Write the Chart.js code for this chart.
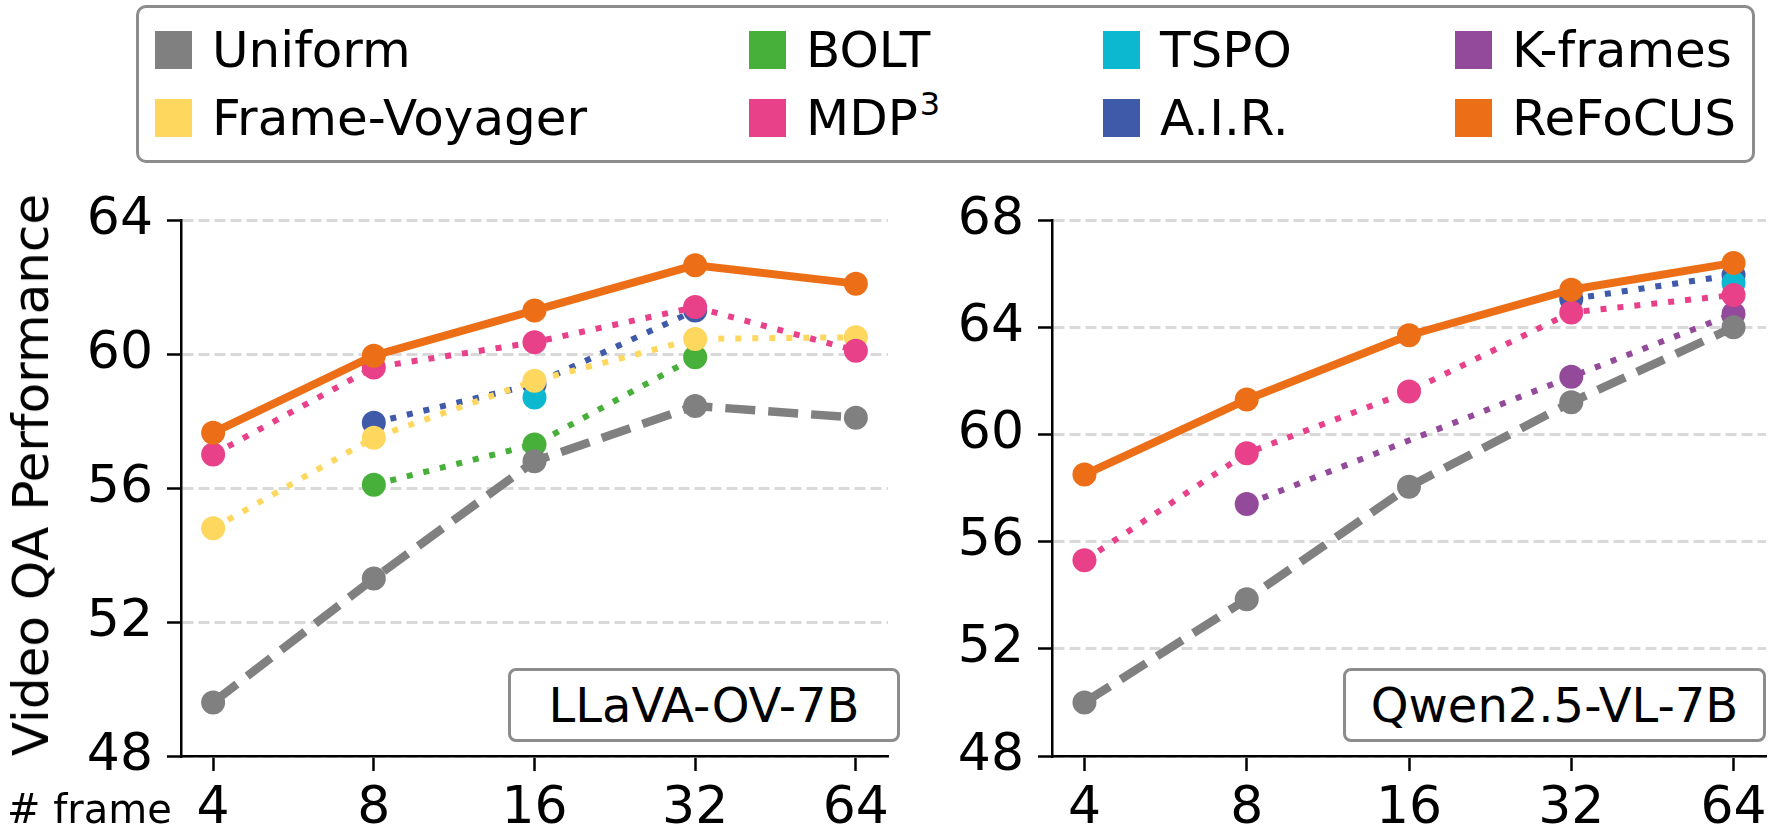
<!DOCTYPE html>
<html>
<head>
<meta charset="utf-8">
<script src="https://cdn.jsdelivr.net/npm/chart.js@4.4.0/dist/chart.umd.min.js"></script>
<style>
  html, body { margin: 0; padding: 0; background: #fff; }
  #wrap { position: relative; width: 1779px; height: 838px; overflow: hidden; font-family: 'DejaVu Sans', sans-serif; color: #000; }
  canvas { position: absolute; top: 0; }
  #legend { position: absolute; left: 136px; top: 5px; width: 1613px; height: 152px; border: 3px solid #8c8c8c; border-radius: 10px; background: #fff; z-index: 5; }
  .li { position: absolute; height: 40px; }
  .sq { position: absolute; left: 0; top: 1px; width: 37px; height: 38px; }
  .lt { position: absolute; left: 57px; top: -9px; font-size: 50px; line-height: 58px; white-space: nowrap; }
  .sup { position: relative; top: -20px; font-size: 32px; margin-left: 2px; }
  .box { position: absolute; top: 668px; height: 68px; border: 3px solid #8c8c8c; border-radius: 8px; background: #fff; font-size: 48px; line-height: 68px; text-align: center; z-index: 5; }
  #ylab { position: absolute; left: 31px; top: 475px; transform: translate(-50%, -50%) rotate(-90deg); font-size: 50px; white-space: nowrap; }
  #xlab { position: absolute; left: 7px; top: 784px; font-size: 40px; line-height: 50px; white-space: nowrap; }
</style>
</head>
<body>
<div id="wrap">
  <canvas id="cL" width="900" height="838" style="left:0px"></canvas>
  <canvas id="cR" width="879" height="838" style="left:900px"></canvas>
  <div id="legend"></div>
  <div id="ylab">Video QA Performance</div>
  <div id="xlab"># frame</div>
  <div class="box" style="left:508px; width:386px;">LLaVA-OV-7B</div>
  <div class="box" style="left:1343px; width:417px;">Qwen2.5-VL-7B</div>
</div>
<script>
// ---- data ----
const frames = ['4', '8', '16', '32', '64'];
const methods = ['Uniform', 'Frame-Voyager', 'BOLT', 'MDP3', 'TSPO', 'A.I.R.', 'K-frames', 'ReFoCUS'];
const legendLabels = ['Uniform', 'Frame-Voyager', 'BOLT', 'MDP<span class="sup">3</span>', 'TSPO', 'A.I.R.', 'K-frames', 'ReFoCUS'];

// LLaVA-OV-7B
const uniformL  = [49.6, 53.3, 56.8, 58.45, 58.1];
const voyagerL  = [54.8, 57.5, 59.2, 60.45, 60.5];
const boltL     = [null, 56.1, 57.3, 59.9, null];
const mdpL      = [57.0, 59.6, 60.35, 61.4, 60.1];
const tspoL     = [null, null, 58.7, null, null];
const airL      = [null, 57.95, 59.1, 61.3, null];
const kframesL  = [null, null, null, null, null];
const refocusL  = [57.65, 59.95, 61.3, 62.65, 62.1];

// Qwen2.5-VL-7B
const uniformR  = [50.0, 53.85, 58.05, 61.2, 64.0];
const voyagerR  = [null, null, null, null, null];
const boltR     = [null, null, null, null, null];
const mdpR      = [55.3, 59.3, 61.6, 64.55, 65.2];
const tspoR     = [null, null, null, null, 65.65];
const airR      = [null, null, null, 65.05, 65.95];
const kframesR  = [null, 57.4, null, 62.15, 64.5];
const refocusR  = [58.5, 61.3, 63.7, 65.4, 66.4];

const yTicksL = [48, 52, 56, 60, 64];
const yTicksR = [48, 52, 56, 60, 64, 68];

// ---- styles ----
const colors = ['#808080', '#fed75f', '#47b03a', '#e8418a', '#0cb8d0', '#3f5aa8', '#944a9b', '#ec6f17'];
const styles = ['dash', 'dot', 'dot', 'dot', 'dot', 'dot', 'dot', 'solid'];
const zorder = [1, 3, 4, 2, 6, 7, 5, 0];

const FONT = "'DejaVu Sans', sans-serif";

function makeDatasets(series) {
  return series.map((vals, k) => {
    const st = styles[k];
    let lw = 6, dash = [6, 11];
    if (st === 'dash') { lw = 8.5; dash = [30, 13]; }
    if (st === 'solid') { lw = 8; dash = []; }
    return {
      label: methods[k],
      data: vals.map((v, i) => ({ x: i, y: v })),
      borderColor: colors[k],
      backgroundColor: colors[k],
      pointBackgroundColor: colors[k],
      pointBorderWidth: 0,
      pointRadius: 12,
      pointHoverRadius: 12,
      borderWidth: lw,
      borderDash: dash,
      borderCapStyle: st === 'solid' ? 'round' : 'butt',
      borderJoinStyle: 'round',
      spanGaps: true,
      tension: 0,
      order: zorder[k]
    };
  });
}

function makeChart(id, series, yTicks, yAxisWidth, padRight) {
  const yMin = yTicks[0], yMax = yTicks[yTicks.length - 1];
  return new Chart(document.getElementById(id), {
    type: 'line',
    data: { datasets: makeDatasets(series) },
    options: {
      responsive: false,
      animation: false,
      devicePixelRatio: 1,
      events: [],
      layout: { padding: { top: 220, right: padRight, bottom: 0, left: 0 } },
      plugins: { legend: { display: false }, tooltip: { enabled: false } },
      scales: {
        x: {
          type: 'linear',
          min: -0.2, max: 4.2,
          afterBuildTicks: (ax) => { ax.ticks = frames.map((f, i) => ({ value: i })); },
          afterFit: (ax) => { ax.height = 82; },
          ticks: {
            callback: (v) => frames[v],
            font: { family: FONT, size: 52 },
            color: '#000',
            padding: 7,
            maxRotation: 0,
            autoSkip: false
          },
          grid: { drawOnChartArea: false, tickLength: 15, tickColor: '#000', tickWidth: 2.5, color: '#000' },
          border: { color: '#000', width: 2.5 }
        },
        y: {
          type: 'linear',
          min: yMin, max: yMax,
          afterBuildTicks: (ax) => { ax.ticks = yTicks.map(v => ({ value: v })); },
          afterFit: (ax) => { ax.width = yAxisWidth; },
          ticks: {
            font: { family: FONT, size: 52 },
            color: '#000',
            padding: 14
          },
          grid: { color: '#d9d9d9', lineWidth: 3, tickLength: 14, tickColor: '#000', tickWidth: 2.5, tickBorderDash: [] },
          border: { color: '#000', width: 2.5, dash: [11, 5] }
        }
      }
    }
  });
}

makeChart('cL', [uniformL, voyagerL, boltL, mdpL, tspoL, airL, kframesL, refocusL], yTicksL, 181, 5);
makeChart('cR', [uniformR, voyagerR, boltR, mdpR, tspoR, airR, kframesR, refocusR], yTicksR, 152, 13);

// ---- legend (column-major, 4 columns x 2 rows) ----
const legend = document.getElementById('legend');
const colX = [16, 610, 964, 1316];
const rowY = [22, 90];
methods.forEach((m, k) => {
  const col = Math.floor(k / 2), row = k % 2;
  const d = document.createElement('div');
  d.className = 'li';
  d.style.left = colX[col] + 'px';
  d.style.top = rowY[row] + 'px';
  d.innerHTML = '<div class="sq" style="background:' + colors[k] + '"></div><div class="lt">' + legendLabels[k] + '</div>';
  legend.appendChild(d);
});
</script>
</body>
</html>
